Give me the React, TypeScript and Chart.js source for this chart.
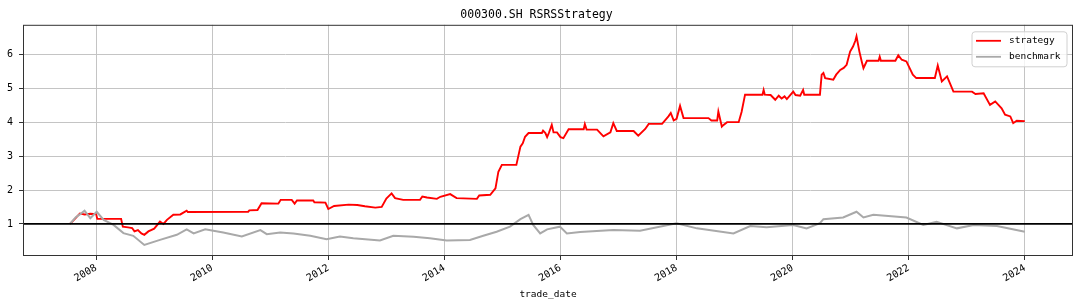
import { useEffect, useRef } from "react";
import { Chart, registerables } from "chart.js";

Chart.register(...registerables);

const titleText = "000300.SH RSRSStrategy";
const xAxisLabel = "trade_date";
const seriesNames = ["strategy", "benchmark"];
const seriesColors = ["#ff0000", "#a9a9a9"];
const baselineValue = 1;

const xTicks = [2008, 2010, 2012, 2014, 2016, 2018, 2020, 2022, 2024];
const yTicks = [1, 2, 3, 4, 5, 6];
const xRange = [2006.74, 2024.83];
const yRange = [0.055, 6.87];

const strategyDates = [
  2007.55, 2007.65, 2007.72, 2007.8, 2007.9, 2008.0, 2008.02, 2008.43, 2008.46, 2008.55,
  2008.62, 2008.66, 2008.72, 2008.78, 2008.83, 2008.9, 2009.0, 2009.1, 2009.16, 2009.22,
  2009.33, 2009.45, 2009.56, 2009.58, 2010.62, 2010.64, 2010.78, 2010.85, 2011.14, 2011.18,
  2011.37, 2011.42, 2011.46, 2011.74, 2011.76, 2011.95, 2012.0, 2012.1, 2012.35, 2012.5,
  2012.63, 2012.81, 2012.92, 2013.0, 2013.09, 2013.15, 2013.29, 2013.58, 2013.62, 2013.7,
  2013.87, 2013.93, 2014.1, 2014.21, 2014.56, 2014.6, 2014.79, 2014.88, 2014.93, 2014.99,
  2015.24, 2015.31, 2015.35, 2015.39, 2015.45, 2015.68, 2015.7, 2015.74, 2015.77, 2015.8,
  2015.85, 2015.88, 2015.94, 2016.0, 2016.05, 2016.14, 2016.4, 2016.42, 2016.45, 2016.63,
  2016.74, 2016.86, 2016.91, 2016.97, 2017.26, 2017.34, 2017.46, 2017.52, 2017.75, 2017.86,
  2017.9, 2017.95, 2018.0, 2018.06, 2018.12, 2018.55, 2018.6, 2018.7, 2018.72, 2018.78,
  2018.81, 2018.87, 2019.07, 2019.12, 2019.18, 2019.48, 2019.5, 2019.52, 2019.62, 2019.7,
  2019.76, 2019.81, 2019.86, 2019.9, 2020.01, 2020.05, 2020.13, 2020.18, 2020.2, 2020.47,
  2020.5, 2020.53, 2020.56, 2020.7, 2020.75, 2020.82, 2020.88, 2020.93, 2020.99, 2021.04,
  2021.08, 2021.1, 2021.15, 2021.19, 2021.22, 2021.28, 2021.48, 2021.5, 2021.52, 2021.77,
  2021.82, 2021.88, 2021.96, 2022.07, 2022.13, 2022.45, 2022.5, 2022.57, 2022.66, 2022.77,
  2023.09, 2023.15, 2023.29, 2023.4, 2023.49, 2023.6, 2023.66, 2023.75, 2023.8, 2023.86,
  2024.0,
];
const strategyValues = [
  1.0, 1.18, 1.31, 1.28, 1.3, 1.29, 1.15, 1.15, 0.92, 0.9,
  0.88, 0.78, 0.82, 0.72, 0.68, 0.78, 0.86, 1.07, 1.0, 1.12,
  1.27, 1.28, 1.39, 1.35, 1.36, 1.4, 1.41, 1.61, 1.6, 1.71,
  1.71, 1.6, 1.69, 1.69, 1.64, 1.63, 1.44, 1.53, 1.57, 1.56,
  1.52, 1.48, 1.5, 1.75, 1.9, 1.76, 1.71, 1.71, 1.81, 1.78,
  1.74, 1.8, 1.88, 1.76, 1.74, 1.84, 1.86, 2.05, 2.54, 2.74,
  2.74, 3.28, 3.38, 3.57, 3.68, 3.68, 3.75, 3.68, 3.56, 3.68,
  3.92, 3.7, 3.7, 3.56, 3.53, 3.79, 3.79, 3.94, 3.78, 3.78,
  3.58, 3.7, 3.97, 3.74, 3.74, 3.6, 3.8, 3.95, 3.95, 4.17,
  4.27, 4.05, 4.1, 4.48, 4.12, 4.12, 4.05, 4.05, 4.31, 3.87,
  3.92, 4.0, 4.0, 4.3, 4.81, 4.81, 4.95, 4.81, 4.8, 4.66,
  4.78, 4.7, 4.76, 4.68, 4.9, 4.8, 4.78, 4.95, 4.81, 4.81,
  5.4, 5.45, 5.3, 5.25, 5.4, 5.54, 5.6, 5.69, 6.08, 6.23,
  6.4, 6.53, 6.08, 5.79, 5.59, 5.81, 5.81, 5.93, 5.81, 5.81,
  5.97, 5.84, 5.79, 5.4, 5.3, 5.3, 5.67, 5.2, 5.35, 4.9,
  4.9, 4.83, 4.85, 4.51, 4.61, 4.41, 4.22, 4.17, 3.97, 4.04,
  4.03,
];

const benchmarkDates = [
  2007.55, 2007.65, 2007.72, 2007.8, 2007.9, 2008.01, 2008.13, 2008.3, 2008.47, 2008.64,
  2008.83, 2009.1, 2009.39, 2009.56, 2009.68, 2009.88, 2010.02, 2010.19, 2010.51, 2010.83,
  2010.94, 2011.17, 2011.4, 2011.69, 2011.97, 2012.2, 2012.43, 2012.89, 2013.12, 2013.47,
  2013.75, 2014.04, 2014.44, 2014.67, 2014.9, 2015.13, 2015.31, 2015.45, 2015.53, 2015.65,
  2015.77, 2015.99, 2016.11, 2016.34, 2016.91, 2017.37, 2018.0, 2018.35, 2018.98, 2019.27,
  2019.55, 2020.01, 2020.24, 2020.47, 2020.53, 2020.87, 2021.1, 2021.22, 2021.39, 2021.96,
  2022.25, 2022.48, 2022.83, 2023.12, 2023.52, 2024.0,
];
const benchmarkValues = [
  1.0, 1.2, 1.28, 1.39, 1.17, 1.36, 1.12, 0.97, 0.73, 0.65,
  0.38, 0.53, 0.68, 0.84, 0.72, 0.84, 0.8, 0.75, 0.63, 0.82,
  0.7, 0.75, 0.72, 0.65, 0.55, 0.63, 0.58, 0.51, 0.65, 0.62,
  0.58, 0.51, 0.53, 0.65, 0.77, 0.92, 1.14, 1.27, 0.97, 0.72,
  0.84, 0.92, 0.72, 0.76, 0.82, 0.8, 1.02, 0.87, 0.72, 0.94,
  0.9, 0.97, 0.87, 1.02, 1.14, 1.19, 1.36, 1.19, 1.27, 1.19,
  0.97, 1.06, 0.87, 0.97, 0.94, 0.77,
];

const FONT = "'DejaVu Sans Mono', monospace";

const overlayPlugin = {
  id: "overlay",
  afterDatasetsDraw(chart: any) {
    const { ctx, chartArea: a, scales } = chart;
    const yb = scales.y.getPixelForValue(baselineValue);
    ctx.save();
    ctx.beginPath();
    ctx.moveTo(a.left, yb);
    ctx.lineTo(a.right, yb);
    ctx.strokeStyle = "#000000";
    ctx.lineWidth = 1.7;
    ctx.stroke();
    ctx.strokeStyle = "#333333";
    ctx.lineWidth = 1;
    ctx.strokeRect(a.left + 0.5, a.top + 0.5, a.right - a.left - 1, a.bottom - a.top - 1);
    const bw = 95;
    const bh = 35;
    const bx = a.right - 6 - bw;
    const by = a.top + 7;
    const r = 3;
    ctx.beginPath();
    ctx.moveTo(bx + r, by);
    ctx.lineTo(bx + bw - r, by);
    ctx.arcTo(bx + bw, by, bx + bw, by + r, r);
    ctx.lineTo(bx + bw, by + bh - r);
    ctx.arcTo(bx + bw, by + bh, bx + bw - r, by + bh, r);
    ctx.lineTo(bx + r, by + bh);
    ctx.arcTo(bx, by + bh, bx, by + bh - r, r);
    ctx.lineTo(bx, by + r);
    ctx.arcTo(bx, by, bx + r, by, r);
    ctx.closePath();
    ctx.fillStyle = "rgba(255,255,255,0.8)";
    ctx.fill();
    ctx.strokeStyle = "#d0d0d0";
    ctx.lineWidth = 1;
    ctx.stroke();
    chart.data.datasets.forEach((ds: any, i: number) => {
      const ly = by + 9 + i * 16;
      ctx.beginPath();
      ctx.moveTo(bx + 4, ly);
      ctx.lineTo(bx + 29, ly);
      ctx.strokeStyle = ds.borderColor;
      ctx.lineWidth = 1.8;
      ctx.stroke();
      ctx.fillStyle = "#000000";
      ctx.font = `9.5px ${FONT}`;
      ctx.textBaseline = "middle";
      ctx.textAlign = "left";
      ctx.fillText(ds.label, bx + 37, ly);
    });
    ctx.restore();
  },
};

export default function App() {
  const ref = useRef<HTMLCanvasElement | null>(null);

  useEffect(() => {
    if (!ref.current) return;
    const strategy = strategyDates.map((d, i) => ({ x: d, y: strategyValues[i] }));
    const benchmark = benchmarkDates.map((d, i) => ({ x: d, y: benchmarkValues[i] }));
    const chart = new Chart(ref.current, {
      type: "line",
      data: {
        datasets: [
          {
            label: seriesNames[0],
            data: strategy,
            borderColor: seriesColors[0],
            borderWidth: 1.9,
            pointRadius: 0,
            tension: 0,
            order: 1,
          },
          {
            label: seriesNames[1],
            data: benchmark,
            borderColor: seriesColors[1],
            borderWidth: 2,
            pointRadius: 0,
            tension: 0,
            order: 0,
          },
        ],
      },
      options: {
        animation: false,
        responsive: false,
        events: [],
        layout: { padding: { left: 0, right: 7, top: 0, bottom: 0 } },
        plugins: {
          legend: { display: false },
          tooltip: { enabled: false },
          title: {
            display: true,
            text: titleText,
            color: "#000000",
            font: { family: FONT, size: 11.5, weight: "normal", lineHeight: 1.2 },
            padding: { top: 8, bottom: 3 },
          },
        },
        scales: {
          x: {
            type: "linear",
            min: xRange[0],
            max: xRange[1],
            afterBuildTicks: (scale: any) => {
              scale.ticks = xTicks.map((v) => ({ value: v }));
            },
            afterFit: (scale: any) => {
              scale.height = 52;
            },
            ticks: {
              autoSkip: false,
              minRotation: 30,
              maxRotation: 30,
              padding: 2,
              color: "#000000",
              font: { family: FONT, size: 10 },
              callback: (v: any) => String(v),
            },
            grid: {
              color: "#c4c4c4",
              lineWidth: 1,
              drawTicks: true,
              tickLength: 4,
              tickColor: "#333333",
            },
            border: { display: false },
            title: {
              display: true,
              text: xAxisLabel,
              color: "#000000",
              font: { family: FONT, size: 9.5, lineHeight: 1.2 },
              padding: { top: 0, bottom: 8 },
            },
          },
          y: {
            type: "linear",
            min: yRange[0],
            max: yRange[1],
            afterBuildTicks: (scale: any) => {
              scale.ticks = yTicks.map((v) => ({ value: v }));
            },
            afterFit: (scale: any) => {
              scale.width = 23;
            },
            ticks: {
              padding: 6,
              color: "#000000",
              font: { family: FONT, size: 10 },
              callback: (v: any) => String(v),
            },
            grid: {
              color: "#c4c4c4",
              lineWidth: 1,
              drawTicks: true,
              tickLength: 4,
              tickColor: "#333333",
            },
            border: { display: false },
          },
        },
      },
      plugins: [overlayPlugin],
    } as any);
    return () => chart.destroy();
  }, []);

  return (
    <div style={{ position: "fixed", left: 0, top: 0, width: 1080, height: 308, background: "#ffffff" }}>
      <canvas ref={ref} width={1080} height={308} style={{ display: "block", width: 1080, height: 308 }} />
    </div>
  );
}
